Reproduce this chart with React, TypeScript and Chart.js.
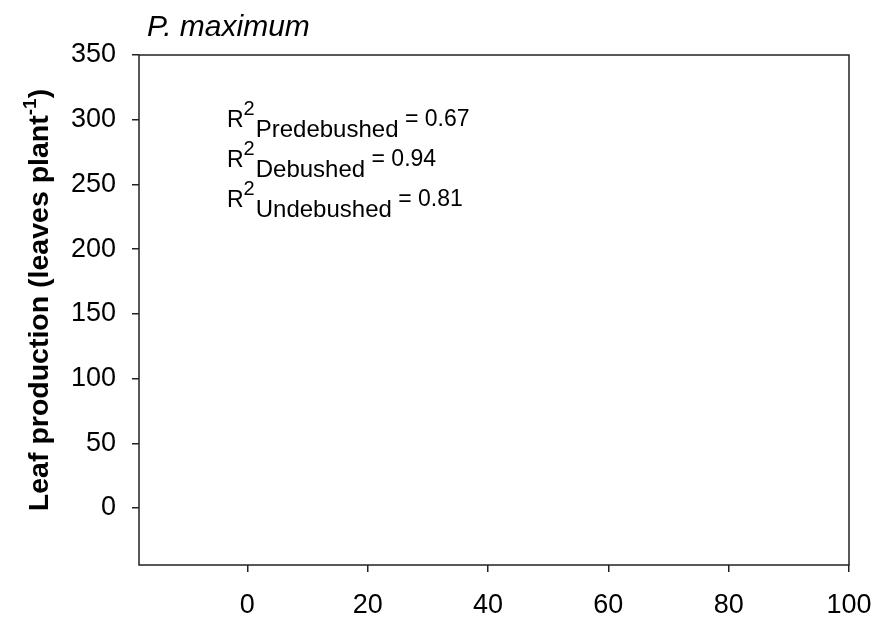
import React, { useEffect, useRef } from "react";
import { Chart, registerables } from "chart.js";

Chart.register(...registerables);

// ---- data ----
const X_TICKS = [0, 20, 40, 60, 80, 100];
const Y_TICKS = [0, 50, 100, 150, 200, 250, 300, 350];
const X_MIN = -18;
const X_MAX = 100;
const Y_MIN = -44;
const Y_MAX = 350;
const SERIES_NAMES = ["Predebushed", "Debushed", "Undebushed"];
const R2_VALUES = [0.67, 0.94, 0.81];
const PREDEBUSHED_POINTS: { x: number; y: number }[] = [];
const DEBUSHED_POINTS: { x: number; y: number }[] = [];
const UNDEBUSHED_POINTS: { x: number; y: number }[] = [];
const TITLE = "P. maximum";
const Y_TITLE_MAIN = "Leaf production (leaves plant";
const Y_TITLE_SUP = "-1";
const Y_TITLE_END = ")";

const FONT = '"Liberation Sans", Arial, Helvetica, sans-serif';
const LINE = "#222";

const textPlugin = {
  id: "customTexts",
  afterDraw(chart: any) {
    const ctx: CanvasRenderingContext2D = chart.ctx;
    const a = chart.chartArea;
    ctx.save();
    // frame
    ctx.strokeStyle = LINE;
    ctx.lineWidth = 1.5;
    ctx.strokeRect(a.left, a.top, a.right - a.left, a.bottom - a.top);

    ctx.fillStyle = "#000";
    ctx.textAlign = "left";
    ctx.textBaseline = "alphabetic";

    // title (italic)
    ctx.font = `italic 30px ${FONT}`;
    ctx.fillText(TITLE, a.left + 8, a.top - 19);

    // y axis title (bold, rotated, with superscript)
    ctx.save();
    const mainFont = `bold 28.5px ${FONT}`;
    const supFont = `bold 19px ${FONT}`;
    ctx.font = mainFont;
    const wMain = ctx.measureText(Y_TITLE_MAIN).width;
    const wEnd = ctx.measureText(Y_TITLE_END).width;
    ctx.font = supFont;
    const wSup = ctx.measureText(Y_TITLE_SUP).width;
    const total = wMain + wSup + wEnd;
    const cy = (a.top + a.bottom) / 2 - 10;
    ctx.translate(48, cy);
    ctx.rotate(-Math.PI / 2);
    let x0 = -total / 2;
    ctx.font = mainFont;
    ctx.fillText(Y_TITLE_MAIN, x0, 0);
    x0 += wMain;
    ctx.font = supFont;
    ctx.fillText(Y_TITLE_SUP, x0, -12);
    x0 += wSup;
    ctx.font = mainFont;
    ctx.fillText(Y_TITLE_END, x0, 0);
    ctx.restore();

    // R² annotations
    const rFont = `23px ${FONT}`;
    const supF = `20px ${FONT}`;
    const subFont = `24px ${FONT}`;
    const valFont = `23px ${FONT}`;
    const startX = a.left + 88;
    SERIES_NAMES.forEach((name, i) => {
      const base = a.top + 72 + i * 40;
      let x = startX;
      ctx.font = rFont;
      ctx.fillText("R", x, base);
      x += ctx.measureText("R").width;
      ctx.font = supF;
      ctx.fillText("2", x, base - 12);
      x += ctx.measureText("2").width + 1;
      ctx.font = subFont;
      ctx.fillText(name, x, base + 10);
      x += ctx.measureText(name).width;
      ctx.font = valFont;
      ctx.fillText(" = " + R2_VALUES[i].toFixed(2), x, base - 1);
    });

    ctx.restore();
  },
};

export default function App() {
  const ref = useRef<HTMLCanvasElement | null>(null);
  useEffect(() => {
    if (!ref.current) return;
    const chart = new Chart(ref.current, {
      type: "scatter",
      data: {
        datasets: [
          { label: SERIES_NAMES[0], data: PREDEBUSHED_POINTS, backgroundColor: "#000" },
          { label: SERIES_NAMES[1], data: DEBUSHED_POINTS, backgroundColor: "#888" },
          { label: SERIES_NAMES[2], data: UNDEBUSHED_POINTS, backgroundColor: "#fff", borderColor: "#000" },
        ],
      },
      options: {
        animation: false,
        responsive: true,
        maintainAspectRatio: false,
        layout: { padding: { top: 55, right: 27, left: 0, bottom: 0 } },
        plugins: {
          legend: { display: false },
          title: { display: false },
          tooltip: { enabled: false },
        },
        scales: {
          x: {
            type: "linear",
            min: X_MIN,
            max: X_MAX,
            afterBuildTicks: (scale: any) => {
              scale.ticks = X_TICKS.map((v) => ({ value: v }));
            },
            afterFit: (scale: any) => {
              scale.height = 55;
              scale.paddingLeft = 0;
              scale.paddingRight = 0;
            },
            border: { display: false },
            grid: {
              display: true,
              drawOnChartArea: false,
              drawTicks: true,
              tickLength: 7,
              color: LINE,
              lineWidth: 1.5,
            },
            ticks: {
              color: "#000",
              font: { family: FONT, size: 27 },
              padding: 17,
              maxRotation: 0,
              autoSkip: false,
            },
          },
          y: {
            type: "linear",
            min: Y_MIN,
            max: Y_MAX,
            afterBuildTicks: (scale: any) => {
              scale.ticks = Y_TICKS.map((v) => ({ value: v }));
            },
            afterFit: (scale: any) => {
              scale.width = 139;
              scale.paddingTop = 0;
              scale.paddingBottom = 0;
            },
            border: { display: false },
            grid: {
              display: true,
              drawOnChartArea: false,
              drawTicks: true,
              tickLength: 7,
              color: LINE,
              lineWidth: 1.5,
            },
            ticks: {
              color: "#000",
              font: { family: FONT, size: 27 },
              padding: 16,
              autoSkip: false,
            },
          },
        },
      },
      plugins: [textPlugin],
    });
    return () => chart.destroy();
  }, []);
  return (
    <div style={{ position: "fixed", left: 0, top: 0, width: 876, height: 620, background: "#fff" }}>
      <canvas ref={ref} />
    </div>
  );
}
